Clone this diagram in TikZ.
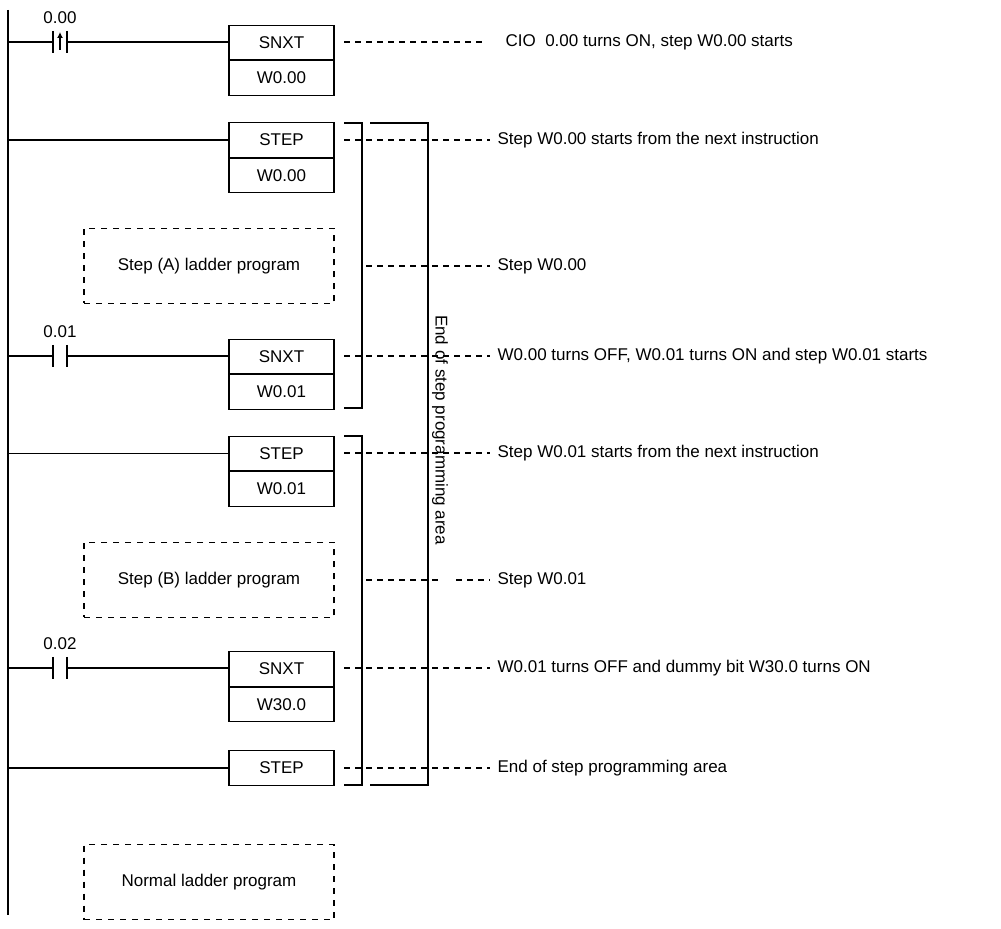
\documentclass[tikz,border=0pt]{standalone}
\usepackage{fontspec}
\setmainfont{Liberation Sans}
\usetikzlibrary{positioning,arrows.meta}
\tikzstyle{instr} = [draw, minimum width = 52.5pt, minimum height = 17.2pt, inner sep=0pt, font=\fontsize{8.5}{10}\selectfont]
\tikzstyle{prog} = [draw, dashed, minimum width = 125pt, minimum height = 37.5pt, font=\fontsize{8.5}{10}\selectfont]
\tikzstyle{note} = [right, inner sep=0pt, font=\fontsize{8.5}{10}\selectfont]
\tikzstyle{lbl} = [font=\fontsize{8.5}{10}\selectfont, inner sep=0pt]
\tikzstyle{lead} = [dashed, dash pattern=on 3pt off 2.5pt]

\begin{document}
\begin{tikzpicture}[x=0.5pt, y=-0.5pt, line width=0.6pt]
        \useasboundingbox (0,0) rectangle (1001,929);
        %Rail
        \coordinate (railtop) at (8,10);
        \coordinate (railbot) at (8,915);
        \draw (railtop) -- (railbot);
        %Blocks
        \node [instr] (snxtA) at (281.5,42.5) {SNXT};
        \node [instr, below = 0pt of snxtA] (wA) {W0.00};
        \node [instr] (stepA) at (281.5,140) {STEP};
        \node [instr, below = 0pt of stepA] (wA2) {W0.00};
        \node [prog] (progA) at (209,266) {Step (A) ladder program};
        \node [instr] (snxtB) at (281.5,356.5) {SNXT};
        \node [instr, below = 0pt of snxtB] (wB) {W0.01};
        \node [instr] (stepB) at (281.5,453.5) {STEP};
        \node [instr, below = 0pt of stepB] (wB2) {W0.01};
        \node [prog] (progB) at (209,580) {Step (B) ladder program};
        \node [instr] (snxtC) at (281.5,669) {SNXT};
        \node [instr, below = 0pt of snxtC] (wC) {W30.0};
        \node [instr] (stepC) at (281.5,768) {STEP};
        \node [prog] (progN) at (209,882) {Normal ladder program};
        %Contacts
        \foreach \name/\y/\txt in {cA/42/0.00, cB/356/0.01, cC/668/0.02} {
            \coordinate (\name l) at (53,\y);
            \coordinate (\name r) at (67,\y);
            \draw (8,\y) -- (\name l) ++(0,-11) -- ++(0,22);
            \draw (\name r) ++(0,-11) -- ++(0,22);
            \draw (\name r) -- (281.5-52.5,\y);
            \node [lbl] at (60,\y-24) {\txt};
        }
        \draw[-{Latex[length=3pt,width=3pt]}] (60,50) -- (60,32);
        \draw (8,140) -- (stepA.west);
        \draw (8,453.5) -- (stepB.west);
        \draw (8,768) -- (stepC.west);
        %Brackets
        \draw (344,123) -- (362,123) -- (362,408) -- (344,408);
        \draw (344,436) -- (362,436) -- (362,785) -- (344,785);
        \draw (370,123) -- (428,123) -- (428,785) -- (370,785);
        \node [lbl, rotate=-90] (area) at (440,430) {End of step programming area};
        %Notes
        \foreach \y/\x/\txt in {
            42/505/{CIO\ \ 0.00 turns ON, step W0.00 starts},
            140/497/{Step W0.00 starts from the next instruction},
            266/497/{Step W0.00},
            356/497/{W0.00 turns OFF, W0.01 turns ON and step W0.01 starts},
            453/497/{Step W0.01 starts from the next instruction},
            580/497/{Step W0.01},
            668/497/{W0.01 turns OFF and dummy bit W30.0 turns ON},
            768/497/{End of step programming area}} {
            \node [note] at (\x,\y) {\txt};
        }
        \draw[lead] (344,42) -- (485,42);
        \draw[lead] (344,140) -- (490,140);
        \draw[lead] (366,266) -- (490,266);
        \draw[lead] (344,356) -- (490,356);
        \draw[lead] (344,453) -- (490,453);
        \draw[lead] (366,580) -- (438,580);
        \draw[lead] (456,580) -- (490,580);
        \draw[lead] (344,668) -- (490,668);
        \draw[lead] (344,768) -- (490,768);
    \end{tikzpicture}
\end{document}
